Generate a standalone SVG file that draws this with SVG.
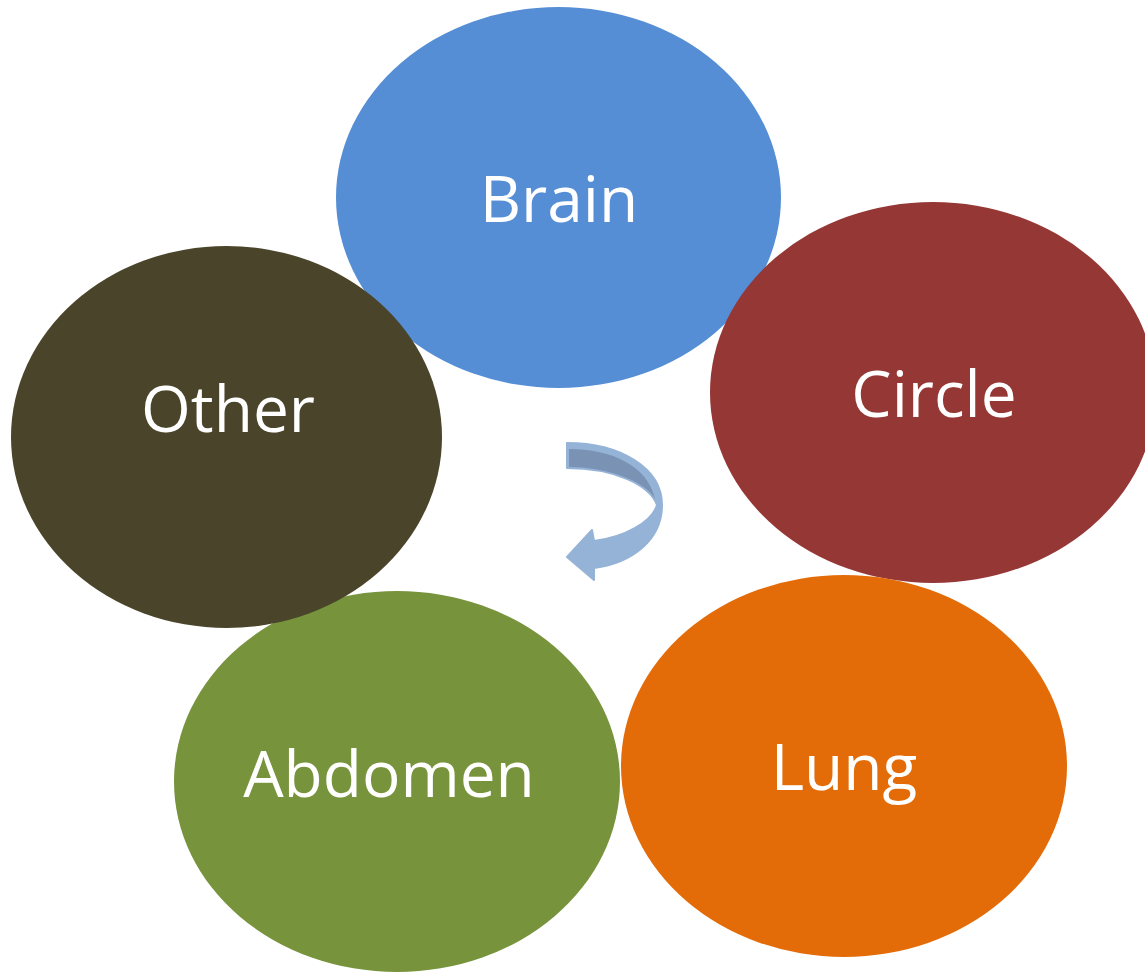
<svg xmlns="http://www.w3.org/2000/svg" width="1145" height="973" viewBox="0 0 1145 973">
<style>
.lbl{font-family:"Open Sans","Noto Sans","DejaVu Sans",sans-serif;font-size:64px;fill:#FFFFFF;text-anchor:middle}
.arrow{fill:#95B3D7;stroke:#95B3D7;stroke-width:2;stroke-linejoin:round}
.arrowback{fill:#7A93B4}
</style>
<rect width="1145" height="973" fill="#FFFFFF"/>
<g id="node-brain">
<ellipse cx="558.5" cy="197.5" rx="222.5" ry="190.5" fill="#558ED5"/>
<text class="lbl" x="559" y="222">Brain</text>
</g>
<g id="node-circle">
<ellipse cx="933" cy="392.5" rx="223" ry="190.5" fill="#953735"/>
<text class="lbl" x="934" y="417">Circle</text>
</g>
<g id="node-lung">
<ellipse cx="844" cy="766" rx="223" ry="191" fill="#E36C09"/>
<text class="lbl" x="844" y="790">Lung</text>
</g>
<g id="node-abdomen">
<ellipse cx="397" cy="781.5" rx="223" ry="190.5" fill="#77933C"/>
<text class="lbl" x="389" y="797">Abdomen</text>
</g>
<g id="node-other">
<ellipse cx="226.5" cy="437" rx="215.5" ry="191" fill="#4A452A"/>
<text class="lbl" x="228" y="432">Other</text>
</g>
<g id="connectors">
<path class="arrow" d="M567,443 C620,443 662,468 662,505 C662,540 632,563 594,568 L594,580 L567,557 L592,530 L594,541 C625,537 652,522 657,505 C650,485 615,468 567,468 Z"/>
<path class="arrowback" d="M569,449 C612,449 648,466 655,499 C648,484 612,467 569,467 Z"/>
</g>
</svg>
